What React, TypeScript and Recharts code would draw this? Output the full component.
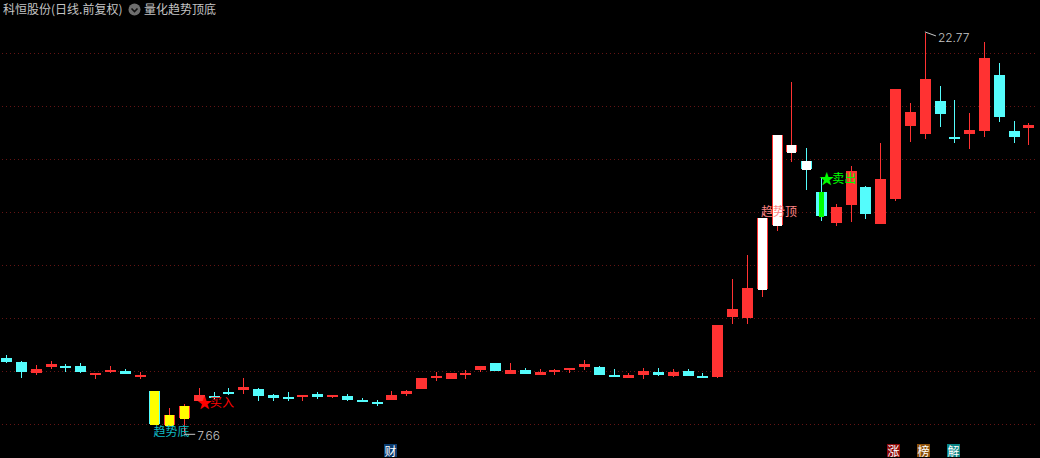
import { ComposedChart, Bar, XAxis, YAxis, CartesianGrid, ReferenceDot } from 'recharts';

// prices, one entry per trading day
const highs = [
  10.65, 10.39, 10.27, 10.39, 10.31, 10.35, 9.94, 10.2, 10.12, 10.01,
  9.29, 8.62, 8.77, 9.37, 9.22, 9.37, 9.75, 9.37, 9.18, 9.22,
  9.14, 9.22, 9.14, 9.18, 9.03, 8.95, 9.26, 9.33, 9.75, 10.01,
  9.94, 10.05, 10.2, 10.35, 10.35, 10.16, 10.12, 10.09, 10.16, 10.43,
  10.2, 10.09, 9.97, 10.16, 10.16, 10.12, 10.12, 9.94, 11.78, 13.52,
  14.39, 15.79, 18.92, 20.92, 18.43, 17.33, 16.35, 17.75, 17.03, 18.62,
  20.69, 20.16, 22.77, 20.8, 20.24, 19.75, 22.46, 21.67, 19.48, 19.37,
];
const opens = [
  10.54, 10.35, 9.97, 10.16, 10.24, 10.24, 9.9, 10.01, 10.05, 9.82,
  9.29, 7.97, 8.24, 8.88, 9.07, 9.22, 9.29, 9.33, 9.14, 9.03,
  9.07, 9.14, 9.07, 9.11, 8.95, 8.88, 8.92, 9.18, 9.33, 9.82,
  9.71, 9.86, 10.05, 10.35, 9.94, 10.09, 9.9, 10.01, 10.09, 10.16,
  10.16, 9.86, 9.78, 9.9, 10.01, 9.86, 10.05, 9.82, 9.82, 12.09,
  12.01, 13.11, 15.52, 18.28, 17.94, 16.8, 15.63, 16.27, 16.99, 15.56,
  16.54, 19.29, 18.96, 20.24, 18.84, 18.96, 19.11, 21.22, 19.11, 19.18,
];
const closes = [
  10.39, 9.97, 10.12, 10.27, 10.16, 10.01, 9.94, 10.05, 9.94, 9.9,
  8.05, 8.35, 8.69, 9.11, 9.03, 9.14, 9.41, 9.07, 9.03, 8.99,
  9.14, 9.03, 9.14, 8.95, 8.88, 8.8, 9.11, 9.29, 9.75, 9.86,
  9.94, 9.94, 10.2, 10.05, 10.09, 9.94, 10.01, 10.05, 10.16, 10.27,
  9.86, 9.82, 9.9, 10.05, 9.9, 10.01, 9.86, 9.78, 11.78, 12.39,
  13.14, 15.79, 18.92, 18.54, 17.63, 15.9, 16.24, 17.56, 15.97, 17.26,
  20.69, 19.82, 21.03, 19.75, 18.8, 19.11, 21.86, 19.63, 18.88, 19.29,
];
const lows = [
  10.35, 9.75, 9.9, 10.09, 10.01, 9.97, 9.71, 9.94, 9.94, 9.75,
  8.05, 7.97, 7.66, 8.88, 8.95, 9.11, 9.14, 8.88, 8.92, 8.88,
  8.92, 8.95, 9.03, 8.92, 8.88, 8.73, 8.92, 9.11, 9.33, 9.67,
  9.71, 9.71, 9.97, 10.05, 9.94, 9.94, 9.9, 9.86, 9.97, 10.05,
  9.86, 9.82, 9.78, 9.75, 9.86, 9.82, 9.86, 9.75, 9.78, 11.82,
  11.78, 12.8, 15.29, 17.9, 16.84, 15.71, 15.52, 15.63, 15.79, 15.56,
  16.46, 18.69, 18.77, 19.26, 18.62, 18.39, 18.88, 19.45, 18.65, 18.54,
];
const yTicks = [8, 10, 12, 14, 16, 18, 20, 22];

// days the indicator paints over the candle
const yellowDays = [10, 11, 12];
const whiteDays = [51, 52, 53, 54];
const greenDays = [55];

const rows = highs.map((high, i) => ({
  day: i,
  range: [lows[i], high],
  open: opens[i],
  close: closes[i],
}));

const RED = '#ff3232';
const CYAN = '#54fcfc';
const FONT = '"Noto Sans CJK SC", "Noto Sans", sans-serif';

function Candle(props: any) {
  const { x, y, width, height, payload } = props;
  const [low, high] = payload.range;
  const h = Math.abs(height);
  const perUnit = h / (high - low);
  const top = Math.ceil(Math.min(y, y + height));
  const mid = Math.round(x + width / 2 + 0.7);
  const left = mid - 5;
  const bodyTop = top + Math.round((high - Math.max(payload.open, payload.close)) * perUnit);
  const bodyH = Math.max(2, Math.round(Math.abs(payload.open - payload.close) * perUnit));
  const color = payload.close >= payload.open ? RED : CYAN;
  let paint = null;
  if (yellowDays.includes(payload.day)) paint = <rect x={left + 1} y={bodyTop} width={9} height={bodyH + 1} fill="#ffff00" />;
  if (whiteDays.includes(payload.day)) paint = <rect x={left + 1} y={bodyTop} width={9} height={bodyH + 1} fill="#ffffff" />;
  if (greenDays.includes(payload.day)) paint = <rect x={left + 3} y={bodyTop} width={5} height={bodyH + 1} fill="#00ff00" />;
  return (
    <g shapeRendering="crispEdges">
      <rect x={mid} y={top} width={1} height={Math.max(1, Math.round(h))} fill={color} />
      <rect x={left} y={bodyTop} width={11} height={bodyH} fill={color} />
      {paint}
    </g>
  );
}

const label = (text: string, color: string, dx: number, dy: number) => (props: any) => (
  <text x={props.cx + dx} y={props.cy + dy} fill={color} fontSize={12} fontFamily={FONT}>
    {text}
  </text>
);

const signal = (text: string, color: string, dy: number) => (props: any) => (
  <g>
    <text x={props.cx - 1} y={props.cy + dy + 1} fill={color} fontSize={15} fontFamily={FONT}>
      ★
    </text>
    <text x={props.cx + 12} y={props.cy + dy} fill={color} fontSize={12} fontFamily={FONT}>
      {text}
    </text>
  </g>
);

const extreme = (text: string, lineFrom: number, lineTo: number, textDy: number) => (props: any) => {
  const { cx, cy } = props;
  return (
    <g>
      <path d={`M${cx + 1} ${cy + lineFrom}L${cx + 12} ${cy + lineTo}`} stroke="#c8c8c8" fill="none" />
      <text x={cx + 14} y={cy + textDy} fill="#c8c8c8" fontSize={12} fontFamily="Inter, sans-serif" fontWeight={300}>
        {text}
      </text>
    </g>
  );
};

const badge = (text: string, color: string) => (props: any) => {
  const x = Math.round(props.cx) - 7;
  const y = Math.round(props.cy) - 7;
  return (
    <g>
      <rect x={x} y={y} width={13} height={14} fill={color} />
      <text x={x + 6.5} y={y + 11.5} textAnchor="middle" fill="#ffffff" fontSize={12} fontFamily={FONT}>
        {text}
      </text>
    </g>
  );
};

export default function App() {
  return (
    <div style={{ position: 'absolute', left: 0, top: 0, width: 1040, height: 458, background: '#000', overflow: 'hidden' }}>
      <div style={{ position: 'absolute', left: -2, top: -1 }}>
        <ComposedChart width={1040} height={458} data={rows} margin={{ top: 0, right: 3, bottom: 0, left: 0 }} barSize={11}>
          <CartesianGrid vertical={false} stroke="#641414" strokeDasharray="1 3" shapeRendering="crispEdges" />
          <XAxis dataKey="day" hide />
          <YAxis hide width={0} domain={[6.766, 24.049]} ticks={yTicks} />
          <Bar dataKey="range" shape={Candle} isAnimationActive={false} />
          <ReferenceDot x={10} y={8.05} r={0} shape={label('趋势底', '#10bcc4', 0, 13)} />
          <ReferenceDot x={12} y={7.66} r={0} shape={extreme('7.66', 1, 1, 7)} />
          <ReferenceDot x={13} y={8.88} r={0} shape={signal('买入', '#ff0000', 6)} />
          <ReferenceDot x={51} y={15.79} r={0} shape={label('趋势顶', '#ff8484', 0, -2)} />
          <ReferenceDot x={55} y={17.33} r={0} shape={signal('卖出', '#00ff00', 6)} />
          <ReferenceDot x={62} y={22.77} r={0} shape={extreme('22.77', -1, 3, 9)} />
          <ReferenceDot x={26} y={7} r={0} shape={badge('财', '#0a3c70')} />
          <ReferenceDot x={60} y={7} r={0} shape={badge('涨', '#8c0a0a')} />
          <ReferenceDot x={62} y={7} r={0} shape={badge('榜', '#8c500a')} />
          <ReferenceDot x={64} y={7} r={0} shape={badge('解', '#0a8484')} />
        </ComposedChart>
      </div>
      <div style={{ position: 'absolute', left: 3, top: 0, color: '#c4c4c4', font: `12px/17px ${FONT}`, whiteSpace: 'nowrap' }}>
        科恒股份(日线.前复权)
      </div>
      <svg style={{ position: 'absolute', left: 128, top: 3 }} width={13} height={13}>
        <circle cx={6.5} cy={6.5} r={6} fill="#6e6e6e" />
        <path d="M3.5 5.5L6.5 8.5L9.5 5.5" stroke="#111" strokeWidth={1.6} fill="none" />
      </svg>
      <div style={{ position: 'absolute', left: 144, top: 0, color: '#c4c4c4', font: `12px/17px ${FONT}`, whiteSpace: 'nowrap' }}>
        量化趋势顶底
      </div>
    </div>
  );
}
